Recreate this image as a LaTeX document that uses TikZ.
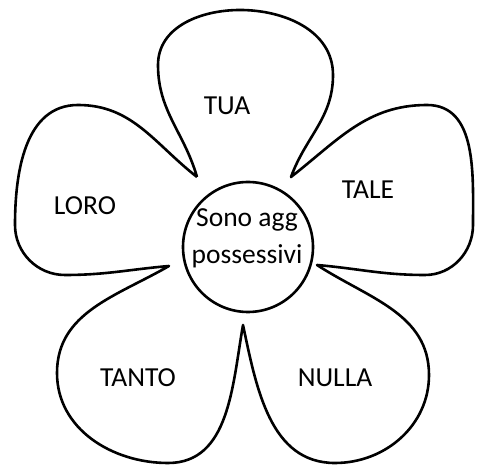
\documentclass[tikz,border=0pt]{standalone}
\usepackage{fontspec}
\setmainfont{Carlito}
\tikzstyle{bordo}=[draw=black,line width=2.6pt,line join=round]
\tikzstyle{parola}=[inner sep=0pt,anchor=base,font=\fontsize{27.5}{37}\selectfont]

\begin{document}
\begin{tikzpicture}[x=1pt,y=1pt]
    \useasboundingbox (0,0) rectangle (481,465);
    % punte tra i petali
    \coordinate (p1) at (197,288);
    \coordinate (p2) at (291,288);
    \coordinate (p3) at (317,200);
    \coordinate (p4) at (243,140);
    \coordinate (p5) at (169,199);
    % contorno del fiore
    \draw [style=bordo] (p1)
        to[out=106,in=-90] (158,400) to[out=90,in=180] (240,455)
        to[out=0,in=90] (333,390) to[out=-90,in=70] (p2)
        to[out=38,in=180] (427,360) to[out=0,in=90] (473,240)
        to[out=-90,in=0] (425,190) to[out=180,in=-5] (p3)
        to[out=-33,in=90] (429,90) to[out=-90,in=0] (335,2)
        to[out=180,in=-78] (p4)
        to[out=-100,in=0] (168,2) to[out=180,in=-90] (57,92)
        to[out=90,in=-150] (p5)
        to[out=185,in=0] (65,190) to[out=180,in=-90] (15,240)
        to[out=90,in=180] (78,360) to[out=0,in=142] (p1);
    \node [style=bordo,circle,minimum size=130pt,inner sep=0pt] (centro) at (248,218) {};
    % parole
    \node [style=parola] (tua) at (227,350) {TUA};
    \node [style=parola] (loro) at (85,250) {LORO};
    \node [style=parola] (tale) at (368,266) {TALE};
    \node [style=parola] (sono) at (247,238) {Sono agg};
    \node [style=parola] (possessivi) at (247,201) {possessivi};
    \node [style=parola] (tanto) at (138,78) {TANTO};
    \node [style=parola] (nulla) at (335,78) {NULLA};
\end{tikzpicture}
\end{document}
